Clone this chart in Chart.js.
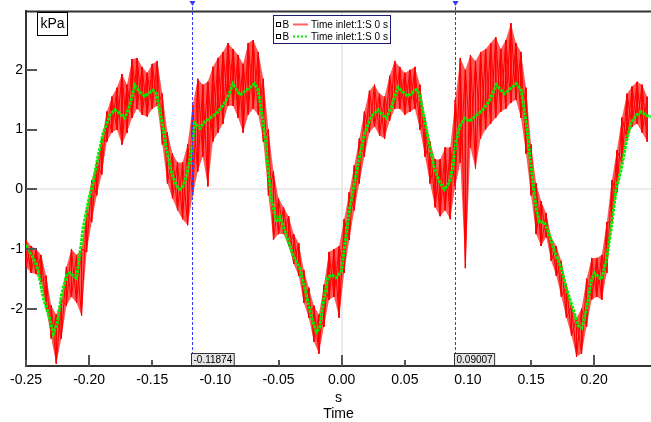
<!DOCTYPE html>
<html>
<head>
<meta charset="utf-8">
<script src="https://cdn.jsdelivr.net/npm/chart.js@4.4.0/dist/chart.umd.min.js"></script>
<style>
  body { margin: 0; background: #fff; }
  #wrap { width: 651px; height: 422px; }
</style>
</head>
<body>
<div id="wrap"><canvas id="pressureChart" width="651" height="422"></canvas></div>
<script>
// smoothed trace (green dotted)
const greenTime = [
  -0.2500, -0.2429, -0.2403, -0.2364, -0.2316, -0.2284, -0.2253, -0.2218, -0.2178, -0.2152,
  -0.2100, -0.2074, -0.2048, -0.2007, -0.1968, -0.1929, -0.1889, -0.1836, -0.1797, -0.1757,
  -0.1717, -0.1678, -0.1638, -0.1599, -0.1559, -0.1494, -0.1467, -0.1426, -0.1387, -0.1348,
  -0.1309, -0.1283, -0.1256, -0.1229, -0.1190, -0.1164, -0.1123, -0.1097, -0.1045, -0.0992,
  -0.0939, -0.0900, -0.0861, -0.0807, -0.0754, -0.0689, -0.0662, -0.0636, -0.0601, -0.0583,
  -0.0557, -0.0516, -0.0490, -0.0438, -0.0386, -0.0332, -0.0280, -0.0240, -0.0200, -0.0174,
  -0.0143, -0.0109, -0.0082, -0.0042, -0.0002, 0.0024, 0.0063, 0.0103, 0.0143, 0.0182,
  0.0235, 0.0288, 0.0327, 0.0353, 0.0394, 0.0446, 0.0485, 0.0524, 0.0591, 0.0617,
  0.0657, 0.0697, 0.0736, 0.0775, 0.0815, 0.0855, 0.0881, 0.0908, 0.0934, 0.0973,
  0.1013, 0.1066, 0.1118, 0.1172, 0.1224, 0.1289, 0.1382, 0.1422, 0.1462, 0.1488,
  0.1514, 0.1541, 0.1567, 0.1607, 0.1646, 0.1686, 0.1739, 0.1778, 0.1830, 0.1870,
  0.1902, 0.1937, 0.1976, 0.2002, 0.2056, 0.2095, 0.2134, 0.2174, 0.2214, 0.2253,
  0.2292, 0.2333, 0.2372, 0.2411, 0.2448
];
const greenValue = [
  -0.93, -1.21, -1.37, -1.81, -2.14, -2.42, -2.25, -1.76, -1.43, -1.40,
  -1.49, -1.10, -0.66, -0.21, 0.12, 0.56, 0.94, 1.24, 1.33, 1.27,
  1.19, 1.41, 1.74, 1.63, 1.56, 1.66, 1.60, 1.16, 0.67, 0.28,
  0.06, 0.00, 0.05, 0.23, 0.61, 1.11, 1.02, 1.11, 1.19, 1.27,
  1.41, 1.55, 1.77, 1.58, 1.66, 1.77, 1.66, 1.33, 0.78, 0.34,
  -0.16, -0.55, -0.46, -0.77, -1.10, -1.32, -1.76, -2.14, -2.39, -2.31,
  -1.87, -1.48, -1.43, -1.48, -1.37, -0.95, -0.33, 0.12, 0.56, 0.94,
  1.22, 1.33, 1.24, 1.19, 1.38, 1.71, 1.63, 1.56, 1.67, 1.60,
  1.16, 0.72, 0.34, 0.12, 0.00, 0.12, 0.39, 0.83, 1.05, 1.19,
  1.14, 1.24, 1.33, 1.49, 1.75, 1.60, 1.77, 1.66, 1.11, 0.61,
  0.12, -0.33, -0.55, -0.55, -0.77, -1.04, -1.32, -1.65, -1.98, -2.28,
  -2.32, -2.03, -1.54, -1.40, -1.51, -1.21, -0.66, 0.00, 0.34, 0.78,
  1.11, 1.24, 1.30, 1.24, 1.21
];

// raw trace (red): upper and lower swing of the noise at each sample time
const redTime = [
  -0.250, -0.246, -0.242, -0.238, -0.234, -0.230, -0.226, -0.222, -0.218, -0.214,
  -0.210, -0.206, -0.202, -0.198, -0.194, -0.190, -0.186, -0.182, -0.178, -0.174,
  -0.170, -0.166, -0.162, -0.158, -0.154, -0.150, -0.146, -0.142, -0.138, -0.134,
  -0.130, -0.126, -0.122, -0.118, -0.114, -0.110, -0.106, -0.102, -0.098, -0.094,
  -0.090, -0.086, -0.082, -0.078, -0.074, -0.070, -0.066, -0.062, -0.058, -0.054,
  -0.050, -0.046, -0.042, -0.038, -0.034, -0.030, -0.026, -0.022, -0.018, -0.014,
  -0.010, -0.006, -0.002, 0.002, 0.006, 0.010, 0.014, 0.018, 0.022, 0.026,
  0.030, 0.034, 0.038, 0.042, 0.046, 0.050, 0.054, 0.058, 0.062, 0.066,
  0.070, 0.074, 0.078, 0.082, 0.086, 0.090, 0.094, 0.098, 0.102, 0.106,
  0.110, 0.114, 0.118, 0.122, 0.126, 0.130, 0.134, 0.138, 0.142, 0.146,
  0.150, 0.154, 0.158, 0.162, 0.166, 0.170, 0.174, 0.178, 0.182, 0.186,
  0.190, 0.194, 0.198, 0.202, 0.206, 0.210, 0.214, 0.218, 0.222, 0.226,
  0.230, 0.234, 0.238, 0.242
];
const redHigh = [
  -0.85, -0.95, -1.00, -1.10, -1.45, -1.95, -2.10, -1.85, -1.30, -1.00,
  -1.10, -1.00, -0.35, 0.15, 0.45, 0.85, 1.30, 1.55, 1.70, 1.93,
  1.75, 2.18, 2.20, 2.05, 1.95, 2.10, 2.15, 1.60, 0.95, 0.60,
  0.45, 0.45, 0.75, 1.40, 1.85, 1.75, 1.80, 2.05, 2.20, 2.30,
  2.45, 2.35, 2.25, 2.10, 2.45, 2.50, 2.30, 1.85, 1.00, 0.30,
  -0.15, -0.30, -0.45, -0.75, -0.90, -1.35, -1.65, -1.95, -2.10, -1.60,
  -1.05, -1.00, -0.95, -0.50, -0.05, 0.40, 0.85, 1.30, 1.65, 1.75,
  1.60, 1.55, 1.90, 2.15, 2.05, 1.95, 2.00, 2.05, 1.75, 1.20,
  0.80, 0.50, 0.50, 0.70, 0.70, 1.50, 2.20, 2.00, 2.25, 2.15,
  2.30, 2.35, 2.45, 2.55, 2.35, 2.50, 2.78, 2.45, 2.30, 1.70,
  0.75, 0.10, -0.20, -0.40, -0.80, -0.95, -1.20, -1.60, -1.95, -2.15,
  -2.00, -1.50, -1.15, -1.15, -1.10, -0.55, 0.15, 0.65, 1.20, 1.60,
  1.72, 1.80, 1.75, 1.55
];
const redLow = [
  -1.30, -1.40, -1.42, -1.55, -2.00, -2.50, -2.92, -2.50, -1.95, -1.80,
  -1.90, -2.12, -1.05, -0.55, -0.10, 0.25, 0.80, 0.95, 1.00, 0.75,
  0.95, 1.20, 1.35, 1.25, 1.22, 1.35, 1.40, 0.75, 0.10, -0.15,
  -0.35, -0.50, -0.60, -0.10, 0.30, 0.55, 0.05, 0.80, 0.95, 1.10,
  1.40, 1.40, 1.20, 0.95, 1.25, 1.35, 1.25, 0.80, -0.10, -0.85,
  -0.75, -0.75, -0.95, -1.25, -1.45, -1.90, -2.15, -2.55, -2.75, -2.30,
  -1.85, -1.80, -2.15, -1.40, -0.85, -0.35, 0.10, 0.55, 0.95, 1.05,
  0.90, 0.85, 1.15, 1.35, 1.35, 1.25, 1.30, 1.35, 1.00, 0.55,
  0.10, -0.30, -0.45, -0.35, -0.50, 0.05, 0.45, -1.32, 0.70, 0.35,
  0.85, 1.00, 1.10, 1.20, 1.30, 1.35, 1.45, 1.50, 1.20, 0.60,
  -0.10, -0.75, -0.95, -0.80, -1.20, -1.45, -1.80, -2.15, -2.45, -2.80,
  -2.75, -2.30, -1.85, -1.80, -1.85, -1.40, -0.55, -0.05, 0.45, 0.85,
  1.05, 1.10, 0.95, 0.80
];

const cursorTimes = [-0.11874, 0.09007];
const cursorLabels = ['-0.11874', '0.09007'];
const xTickValues = [-0.25, -0.20, -0.15, -0.10, -0.05, 0.00, 0.05, 0.10, 0.15, 0.20];
const yTickValues = [-2, -1, 0, 1, 2];
const unitLabel = 'kPa';
const xTitle = ['s', 'Time'];
const seriesTag = ['B', 'B'];
const seriesName = ['Time inlet:1:S 0 s', 'Time inlet:1:S 0 s'];

const FONT = 'Arial, "Liberation Sans", sans-serif';
Chart.defaults.font.family = FONT;
Chart.defaults.color = '#000';

// each sample becomes a vertical stroke; two passes in opposite order cross over,
// a band fills between the swings so the trace reads as dense noise
const redDown = [];
const redUp = [];
redTime.forEach((t, i) => {
    redDown.push({ x: t, y: redHigh[i] }, { x: t, y: redLow[i] });
    redUp.push({ x: t, y: redLow[i] }, { x: t, y: redHigh[i] });
});
const bandTop = redTime.map((t, i) => ({ x: t, y: redHigh[i] }));
const bandBottom = redTime.map((t, i) => ({ x: t, y: redLow[i] }));
const greenPoints = greenTime.map((t, i) => ({ x: t, y: greenValue[i] }));

const RED = '#ff0000';
const GREEN = '#00f000';
const CURSOR = 'rgb(50,60,255)';

const overlay = {
    id: 'overlay',
    afterDatasetsDraw(chart) {
        const { ctx, chartArea: area, scales: { x, y } } = chart;
        ctx.save();

        // inward tick marks
        ctx.strokeStyle = '#555';
        ctx.lineWidth = 2;
        y.ticks.forEach(t => {
            const py = Math.round(y.getPixelForValue(t.value));
            ctx.beginPath();
            ctx.moveTo(area.left, py);
            ctx.lineTo(area.left + 11, py);
            ctx.stroke();
        });
        x.ticks.forEach(t => {
            const px = Math.round(x.getPixelForValue(t.value));
            const major = Math.abs(t.value * 10 - Math.round(t.value * 10)) < 1e-6;
            ctx.beginPath();
            ctx.moveTo(px, area.bottom);
            ctx.lineTo(px, area.bottom - (major ? 11 : 6));
            ctx.stroke();
        });

        // top frame line
        ctx.strokeStyle = '#333';
        ctx.beginPath();
        ctx.moveTo(area.left - 1, area.top);
        ctx.lineTo(area.right, area.top);
        ctx.stroke();

        // cursors
        cursorTimes.forEach((t, i) => {
            const px = Math.round(x.getPixelForValue(t)) + 0.5;
            ctx.lineWidth = 1;
            ctx.setLineDash([3, 2]);
            ctx.strokeStyle = CURSOR;
            ctx.beginPath();
            ctx.moveTo(px, 2);
            ctx.lineTo(px, area.bottom);
            ctx.stroke();
            ctx.setLineDash([]);
            ctx.fillStyle = CURSOR;
            ctx.beginPath();
            ctx.moveTo(px - 3, 1);
            ctx.lineTo(px + 3, 1);
            ctx.lineTo(px, 6);
            ctx.closePath();
            ctx.fill();

            ctx.font = '10px ' + FONT;
            const w = ctx.measureText(cursorLabels[i]).width + 4;
            const bx = px - 1, by = area.bottom - 12.5;
            ctx.fillStyle = '#e6e6e6';
            ctx.fillRect(bx, by, w, 12);
            ctx.strokeStyle = '#333';
            ctx.strokeRect(bx, by, w, 12);
            ctx.fillStyle = '#000';
            ctx.textBaseline = 'middle';
            ctx.textAlign = 'left';
            ctx.fillText(cursorLabels[i], bx + 2, by + 6.5);
        });

        // unit box
        ctx.fillStyle = '#fff';
        ctx.fillRect(37.5, 12.5, 30, 23);
        ctx.strokeStyle = '#000';
        ctx.lineWidth = 1;
        ctx.strokeRect(37.5, 12.5, 30, 23);
        ctx.fillStyle = '#000';
        ctx.font = '14px ' + FONT;
        ctx.textAlign = 'center';
        ctx.textBaseline = 'middle';
        ctx.fillText(unitLabel, 52.5, 24.5);

        // legend
        const lx = 273.5, ly = 15.5;
        ctx.fillStyle = '#fff';
        ctx.fillRect(lx, ly, 117, 28);
        ctx.strokeStyle = '#1a1a6e';
        ctx.strokeRect(lx, ly, 117, 28);
        ctx.font = '10px ' + FONT;
        ctx.textAlign = 'left';
        [RED, GREEN].forEach((c, i) => {
            const ry = 24.5 + i * 12;
            ctx.strokeStyle = '#000';
            ctx.lineWidth = 1;
            ctx.strokeRect(276.5, ry - 2, 4, 4);
            ctx.fillStyle = '#000';
            ctx.fillText(seriesTag[i], 282.5, ry + 0.5);
            ctx.strokeStyle = i === 0 ? 'rgba(255,60,60,0.8)' : c;
            ctx.lineWidth = 2;
            ctx.setLineDash(i === 0 ? [] : [2, 2]);
            ctx.beginPath();
            ctx.moveTo(293, ry);
            ctx.lineTo(308, ry);
            ctx.stroke();
            ctx.setLineDash([]);
            ctx.fillText(seriesName[i], 311, ry + 0.5);
        });

        ctx.restore();
    }
};

const lineBase = { pointRadius: 0, tension: 0 };

// lower "order" is painted last, so the green trace sits on top of the red noise
new Chart(document.getElementById('pressureChart'), {
    type: 'line',
    data: {
        datasets: [
            { ...lineBase, order: 3, label: 'band top', data: bandTop, borderWidth: 0, borderColor: 'rgba(0,0,0,0)',
              fill: '+1', backgroundColor: 'rgba(255,20,20,0.7)' },
            { ...lineBase, order: 3, label: 'band bottom', data: bandBottom, borderWidth: 0, borderColor: 'rgba(0,0,0,0)', fill: false },
            { ...lineBase, order: 2, label: seriesTag[0] + ' ' + seriesName[0], data: redDown, borderColor: RED, borderWidth: 1, fill: false },
            { ...lineBase, order: 2, label: seriesTag[0] + ' ' + seriesName[0], data: redUp, borderColor: RED, borderWidth: 1, fill: false },
            { ...lineBase, order: 0, label: seriesTag[1] + ' ' + seriesName[1], data: greenPoints, borderColor: GREEN,
              borderWidth: 3, borderDash: [3, 1], fill: false }
        ]
    },
    options: {
        responsive: false,
        animation: false,
        layout: { padding: { top: 6, right: 0, left: 0, bottom: 0 } },
        plugins: { legend: { display: false }, tooltip: { enabled: false } },
        scales: {
            x: {
                type: 'linear',
                min: -0.25,
                max: 0.245,
                afterBuildTicks: s => { s.ticks = xTickValues.map(v => ({ value: v })); },
                afterFit: s => { s.height = 56; },
                grid: {
                    drawTicks: false,
                    lineWidth: 2,
                    color: c => (c.tick && c.tick.value === 0 ? '#ebebeb' : 'rgba(0,0,0,0)')
                },
                border: { display: true, color: '#333', width: 2 },
                ticks: {
                    autoSkip: false,
                    maxRotation: 0,
                    padding: 6,
                    font: { size: 14 },
                    callback: v => Number(v).toFixed(2)
                },
                title: {
                    display: true,
                    text: xTitle,
                    font: { size: 14 },
                    padding: { top: 0, bottom: -1 }
                }
            },
            y: {
                type: 'linear',
                min: -2.96,
                max: 2.98,
                afterBuildTicks: s => { s.ticks = yTickValues.map(v => ({ value: v })); },
                afterFit: s => { s.width = 26; },
                grid: {
                    drawTicks: false,
                    lineWidth: 2,
                    color: c => (c.tick && c.tick.value === 0 ? '#ebebeb' : 'rgba(0,0,0,0)')
                },
                border: { display: true, color: '#333', width: 2 },
                ticks: {
                    padding: 3,
                    font: { size: 14 },
                    callback: v => String(v)
                }
            }
        }
    },
    plugins: [overlay]
});
</script>
</body>
</html>
